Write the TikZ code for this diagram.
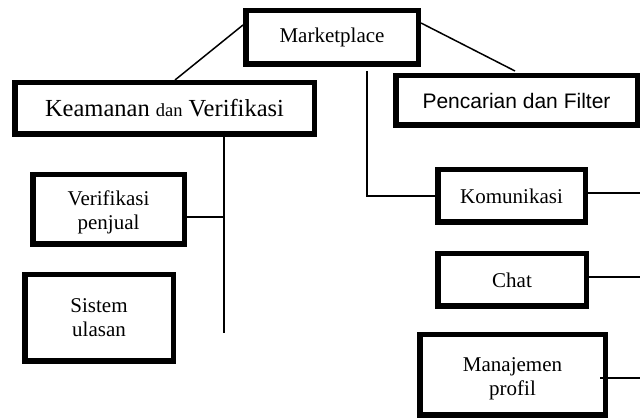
\documentclass[tikz,border=0pt]{standalone}
\usepackage{fontspec}
\setmainfont{Liberation Serif}
\newfontfamily\sansf{Liberation Sans}
\usetikzlibrary{calc}
\begin{document}
\begin{tikzpicture}[x=1pt,y=-1pt,
  box/.style={draw, line width=5.5pt, inner sep=0pt, align=center, font=\fontsize{21}{24}\selectfont},
  link/.style={line width=1.5pt}]
\useasboundingbox (0,0) rectangle (640,419);
\node[box, minimum width=172.5pt, minimum height=53.5pt] (mk) at (332,37.5) {Marketplace};
\node[box, minimum width=299.5pt, minimum height=51.5pt] (kv) at (164.5,108.5)
  {\fontsize{24.5}{28}\selectfont Keamanan {\fontsize{18.5}{20}\selectfont dan} Verifikasi};
\node[box, minimum width=241.5pt, minimum height=49.5pt, font=\sansf\fontsize{21}{24}\selectfont] (pf) at (516.5,100.5) {Pencarian dan Filter};
\node[box, minimum width=151.5pt, minimum height=69.5pt] (vp) at (108.5,209.5) {\rule{0pt}{21pt}Verifikasi\\penjual};
\node[box, minimum width=148.5pt, minimum height=86.5pt] (su) at (99,318) {Sistem\\ulasan};
\node[box, minimum width=147.5pt, minimum height=52.5pt] (km) at (511.5,196) {Komunikasi};
\node[box, minimum width=148.5pt, minimum height=52.5pt] (ch) at (512,280) {Chat};
\node[box, minimum width=185.5pt, minimum height=80.5pt] (mp) at (512.5,375) {\rule{0pt}{21pt}Manajemen\\profil};
% connectors
\draw[link] ([yshift=12.5pt]mk.west) -- ([xshift=10.5pt]kv.north);
\draw[link] ([yshift=14.5pt]mk.east) -- ([xshift=-1.5pt,yshift=2pt]pf.north);
\draw[link] ([xshift=35pt,yshift=-4pt]mk.south) |- (km.west);
\coordinate (kvtop) at ([xshift=59.5pt,yshift=6pt]kv.south);
\coordinate (kvbot) at (224,333);
\draw[link] (kvtop) -- (kvbot);
\coordinate (vpc) at ([yshift=-7.5pt]vp.east);
\draw[link] (vpc) -- (vpc -| kvbot);
\coordinate (redge) at (640,0);
\coordinate (kmc) at ([yshift=3pt]km.east);
\draw[link] (kmc) -- (kmc -| redge);
\coordinate (chc) at ([yshift=3pt]ch.east);
\draw[link] (chc) -- (chc -| redge);
\coordinate (mpc) at ([xshift=-8pt,yshift=-3pt]mp.east);
\draw[link] (mpc) -- (mpc -| redge);
\end{tikzpicture}
\end{document}
